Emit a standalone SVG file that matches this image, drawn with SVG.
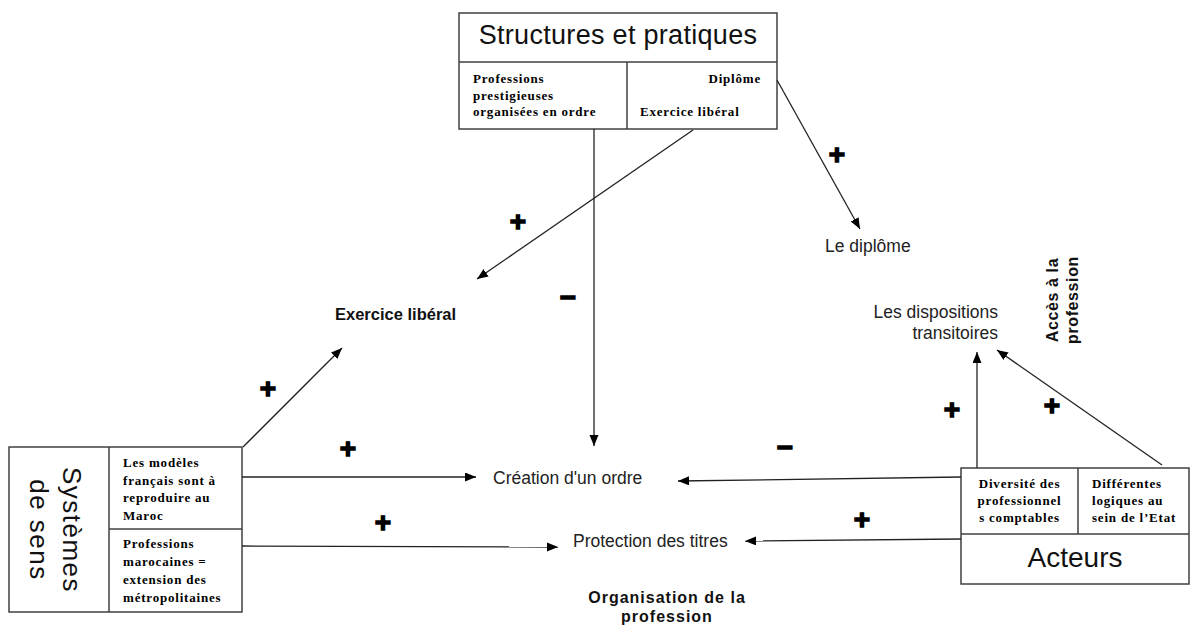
<svg xmlns="http://www.w3.org/2000/svg" width="1190" height="628" viewBox="0 0 1190 628">
<style>
.box{fill:#fff;stroke:#404040;stroke-width:1.5}
.div{stroke:#404040;stroke-width:1.5;fill:none}
.cell{font-family:"Liberation Serif","Times New Roman",serif;font-weight:bold;font-size:13px;letter-spacing:0.8px;fill:#000}
.big{font-family:"Liberation Sans",Arial,sans-serif;fill:#111}
.lbl{font-family:"Liberation Sans",Arial,sans-serif;font-size:17.5px;fill:#222}
.bold{font-family:"Liberation Sans",Arial,sans-serif;font-weight:bold;fill:#111}
.sign{font-family:"Liberation Sans",Arial,sans-serif;font-weight:bold;font-size:28px;fill:#000;stroke:#000;stroke-width:1.4;text-anchor:middle}
.conn line{stroke:#222;stroke-width:1.3;marker-end:url(#ah)}
</style>
<defs>
<marker id="ah" markerUnits="userSpaceOnUse" markerWidth="12" markerHeight="10" refX="11" refY="4.5" orient="auto">
<path d="M0,0 L11,4.5 L0,9 z" fill="#000"/>
</marker>
</defs>
<rect width="1190" height="628" fill="#fff"/>

<g id="structures">
<rect class="box" x="459" y="13" width="318" height="116"/>
<line class="div" x1="459" y1="62" x2="777" y2="62"/>
<line class="div" x1="627" y1="62" x2="627" y2="129"/>
<text class="big" x="618" y="44" font-size="27" text-anchor="middle" letter-spacing="0.3">Structures et pratiques</text>
<text class="cell" x="473" y="83">Professions</text>
<text class="cell" x="473" y="99.5">prestigieuses</text>
<text class="cell" x="473" y="116">organisées en ordre</text>
<text class="cell" x="761" y="83" text-anchor="end">Diplôme</text>
<text class="cell" x="640" y="116">Exercice libéral</text>
</g>

<g id="systemes">
<rect class="box" x="9" y="447" width="233" height="165"/>
<line class="div" x1="109" y1="447" x2="109" y2="612"/>
<line class="div" x1="109" y1="529" x2="242" y2="529"/>
<text class="big" font-size="26" letter-spacing="1.5" text-anchor="middle" transform="translate(63,530) rotate(90)">Systèmes<tspan x="0" dy="33">de sens</tspan></text>
<text class="cell" x="123" y="467">Les modèles</text>
<text class="cell" x="123" y="484.5">français sont à</text>
<text class="cell" x="123" y="502">reproduire au</text>
<text class="cell" x="123" y="519.5">Maroc</text>
<text class="cell" x="123" y="548">Professions</text>
<text class="cell" x="123" y="566">marocaines =</text>
<text class="cell" x="123" y="584">extension des</text>
<text class="cell" x="123" y="602">métropolitaines</text>
</g>

<g id="acteurs">
<rect class="box" x="961" y="468" width="228" height="116"/>
<line class="div" x1="961" y1="534" x2="1189" y2="534"/>
<line class="div" x1="1078" y1="468" x2="1078" y2="534"/>
<text class="cell" x="1019.5" y="488" text-anchor="middle">Diversité des</text>
<text class="cell" x="1019.5" y="505" text-anchor="middle">professionnel</text>
<text class="cell" x="1019.5" y="522" text-anchor="middle">s comptables</text>
<text class="cell" x="1092" y="488">Différentes</text>
<text class="cell" x="1092" y="505">logiques au</text>
<text class="cell" x="1092" y="522">sein de l’Etat</text>
<text class="big" x="1075" y="567" font-size="28" text-anchor="middle">Acteurs</text>
</g>

<g id="exercice">
<text class="bold" x="335" y="320" font-size="16.5">Exercice libéral</text>
</g>
<g id="diplome">
<text class="lbl" x="825" y="252">Le diplôme</text>
</g>
<g id="dispositions">
<text class="lbl" x="998" y="318" text-anchor="end">Les dispositions</text>
<text class="lbl" x="998" y="339" text-anchor="end">transitoires</text>
</g>
<g id="creation">
<text class="lbl" x="493" y="484">Création d'un ordre</text>
</g>
<g id="protection">
<text class="lbl" x="573" y="547">Protection des titres</text>
</g>
<g id="organisation">
<text class="bold" x="667" y="603" font-size="16" letter-spacing="1" text-anchor="middle">Organisation de la</text>
<text class="bold" x="667" y="622" font-size="16" letter-spacing="1" text-anchor="middle">profession</text>
</g>
<g id="acces">
<text class="bold" font-size="16" letter-spacing="0.6" text-anchor="middle" transform="translate(1058,300) rotate(-90)">Accès à la<tspan x="0" dy="20">profession</tspan></text>
</g>

<g class="conn" id="connectors">
<line x1="594" y1="129" x2="594" y2="446"/>
<line x1="693" y1="130" x2="477" y2="279"/>
<line x1="777" y1="80" x2="860" y2="229"/>
<line x1="243" y1="447" x2="342" y2="348"/>
<line x1="242" y1="477" x2="476" y2="477"/>
<line x1="242" y1="546" x2="558" y2="547"/>
<line x1="961" y1="477" x2="678" y2="481"/>
<line x1="961" y1="539" x2="745" y2="541"/>
<line x1="977" y1="468" x2="977" y2="352"/>
<line x1="1162" y1="465" x2="997" y2="350"/>
</g>

<g id="signs">
<text class="sign" x="518" y="231">+</text>
<text class="sign" x="837" y="164">+</text>
<text class="sign" x="268" y="398">+</text>
<text class="sign" x="348" y="458">+</text>
<text class="sign" x="383" y="532">+</text>
<text class="sign" x="952" y="419">+</text>
<text class="sign" x="1052" y="415">+</text>
<text class="sign" x="862" y="529">+</text>
<text class="sign" x="568" y="307">−</text>
<text class="sign" x="785" y="457">−</text>
</g>
</svg>
